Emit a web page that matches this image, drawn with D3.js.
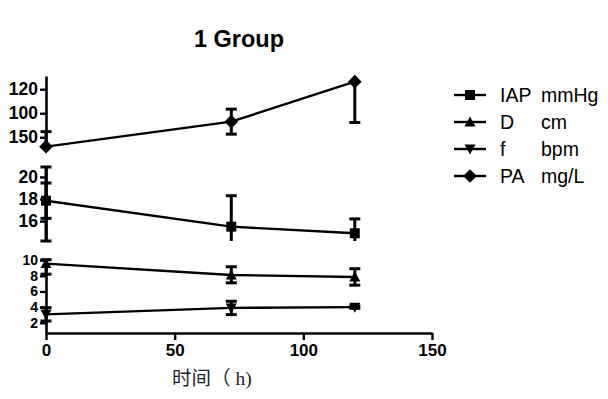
<!DOCTYPE html>
<html>
<head>
<meta charset="utf-8">
<script src="https://cdn.jsdelivr.net/npm/d3@7"></script>
<style>
  html, body { margin: 0; padding: 0; background: #fff; }
  svg { display: block; }
</style>
</head>
<body>
<svg id="chart" width="608" height="399"></svg>
<script>
// ---------- data ----------
const hours = [0, 72, 120];

const paMean = [72.2, 93, 126.3];
const paErrUp = [12.5, 10.4, 34];
const paErrDown = [12.5, 10.4, 34];

const iapMean = [17.85, 15.5, 14.9];
const iapErrUp = [1.6, 2.8, 1.3];
const iapErrDown = [1.6, 2.8, 1.3];
const iapOuterLow = [14.2, null, null];
const iapOuterHigh = [20.9, null, null];

const dMean = [9.55, 8.1, 7.85];
const dErrUp = [0.5, 1.05, 1.05];
const dErrDown = [1.35, 1.0, 1.05];

const fMean = [3.08, 3.9, 4.0];
const fErrUp = [0.85, 0.85, 0.15];
const fErrDown = [0.85, 0.85, 0.15];

const xTicks = [0, 50, 100, 150];
const topTicks = [80, 100, 120];
const topTickLabels = ["150", "100", "120"];
const midTicks = [16, 18, 20];
const botTicks = [2, 4, 6, 8, 10];

const legendNames = ["IAP", "D", "f", "PA"];
const legendUnits = ["mmHg", "cm", "bpm", "mg/L"];
const legendShapes = ["square", "triangleUp", "triangleDown", "diamond"];

const titleText = "1 Group";
const xLabelText = "时间（ h)";

// ---------- layout ----------
const svg = d3.select("#chart");
const FONT = "Arial, 'Liberation Sans', Helvetica, sans-serif";
const x = d3.scaleLinear().domain([0, 150]).range([46, 432]);

const yTop = d3.scaleLinear().domain([69.4, 131]).range([150, 76]);
const yMid = d3.scaleLinear().domain([14.2, 20.9]).range([241, 167]);
const yBot = d3.scaleLinear().domain([0.7, 10.1]).range([333, 259.3]);

const segments = [
  { scale: yTop, ticks: topTicks, labels: topTickLabels, fs: 17.5 },
  { scale: yMid, ticks: midTicks, labels: midTicks.map(String), fs: 17.5 },
  { scale: yBot, ticks: botTicks, labels: botTicks.map(String), fs: 14 }
];

// title
svg.append("text")
  .attr("x", 239).attr("y", 47)
  .attr("text-anchor", "middle")
  .attr("font-family", FONT).attr("font-weight", "bold").attr("font-size", 23.5)
  .text(titleText);

// y axis segments
segments.forEach(seg => {
  const ax = d3.axisLeft(seg.scale)
    .tickValues(seg.ticks)
    .tickFormat((d, i) => seg.labels[i])
    .tickSize(6).tickSizeOuter(0).tickPadding(2);
  const g = svg.append("g").attr("transform", `translate(${x(0)},0)`).call(ax);
  g.select(".domain").attr("stroke", "#000").attr("stroke-width", 2.6);
  g.selectAll(".tick line").attr("stroke", "#000").attr("stroke-width", 2.4);
  g.selectAll(".tick text")
    .attr("font-family", FONT).attr("font-weight", "bold").attr("font-size", seg.fs)
    .attr("fill", "#000");
});

// x axis
const xAx = d3.axisBottom(x).tickValues(xTicks).tickSize(7).tickSizeOuter(0).tickPadding(4);
const gx = svg.append("g").attr("transform", `translate(0,${yBot.range()[0]})`).call(xAx);
gx.select(".domain").attr("stroke", "#000").attr("stroke-width", 2.6);
gx.selectAll(".tick line").attr("stroke", "#000").attr("stroke-width", 2.4);
gx.selectAll(".tick text")
  .attr("font-family", FONT).attr("font-weight", "bold").attr("font-size", 17)
  .attr("fill", "#000");

// x label
svg.append("text")
  .attr("x", 172).attr("y", 385)
  .attr("text-anchor", "start")
  .attr("font-family", "'Liberation Serif', 'Noto Sans CJK SC', serif")
  .attr("font-size", 19.5)
  .attr("fill", "#1c1c30")
  .text(xLabelText);

// ---------- marker shapes ----------
function shapePath(type, s) {
  switch (type) {
    case "square": return `M${-s/2},${-s/2}h${s}v${s}h${-s}Z`;
    case "triangleUp": return `M0,${-s*0.55}L${s*0.55},${s*0.45}L${-s*0.55},${s*0.45}Z`;
    case "triangleDown": return `M0,${s*0.55}L${s*0.55},${-s*0.45}L${-s*0.55},${-s*0.45}Z`;
    case "diamond": return `M0,${-s*0.62}L${s*0.62},0L0,${s*0.62}L${-s*0.62},0Z`;
  }
}

// ---------- series ----------
const series = [
  { mean: paMean, up: paErrUp, down: paErrDown, scale: yTop, shape: "diamond", size: 11 },
  { mean: iapMean, up: iapErrUp, down: iapErrDown, scale: yMid, shape: "square", size: 10 },
  { mean: dMean, up: dErrUp, down: dErrDown, scale: yBot, shape: "triangleUp", size: 10 },
  { mean: fMean, up: fErrUp, down: fErrDown, scale: yBot, shape: "triangleDown", size: 10 }
];

const capW = 5.5;
function drawErr(g, xp, scale, lo, hi) {
  const [d0, d1] = scale.domain();
  const loC = Math.max(lo, d0), hiC = Math.min(hi, d1);
  g.append("line")
    .attr("x1", xp).attr("x2", xp)
    .attr("y1", scale(loC)).attr("y2", scale(hiC))
    .attr("stroke", "#000").attr("stroke-width", 3);
  if (lo >= d0 - 1e-9) {
    g.append("line").attr("x1", xp - capW).attr("x2", xp + capW)
      .attr("y1", scale(lo)).attr("y2", scale(lo))
      .attr("stroke", "#000").attr("stroke-width", 3);
  }
  if (hi <= d1 + 1e-9) {
    g.append("line").attr("x1", xp - capW).attr("x2", xp + capW)
      .attr("y1", scale(hi)).attr("y2", scale(hi))
      .attr("stroke", "#000").attr("stroke-width", 3);
  }
}

series.forEach(s => {
  const g = svg.append("g");
  const pts = hours.map((h, i) => [x(h), s.scale(s.mean[i])]);
  g.append("path")
    .attr("d", d3.line()(pts))
    .attr("fill", "none").attr("stroke", "#000").attr("stroke-width", 2.4);
  hours.forEach((h, i) => {
    drawErr(g, x(h), s.scale, s.mean[i] - s.down[i], s.mean[i] + s.up[i]);
  });
  hours.forEach((h, i) => {
    g.append("path")
      .attr("d", shapePath(s.shape, s.size))
      .attr("transform", `translate(${pts[i][0]},${pts[i][1]})`)
      .attr("fill", "#000");
  });
});

// outer range bars of IAP
hours.forEach((h, i) => {
  if (iapOuterLow[i] != null) drawErr(svg.append("g"), x(h), yMid, iapOuterLow[i], iapOuterHigh[i]);
});

// ---------- legend ----------
const legY = [95, 122, 149, 176];
legendNames.forEach((name, i) => {
  const g = svg.append("g").attr("transform", `translate(0,${legY[i]})`);
  g.append("line").attr("x1", 454).attr("x2", 486).attr("y1", 0).attr("y2", 0)
    .attr("stroke", "#000").attr("stroke-width", 2.4);
  g.append("path").attr("d", shapePath(legendShapes[i], legendShapes[i] === "diamond" ? 11 : 10))
    .attr("transform", "translate(470,0)").attr("fill", "#000");
  g.append("text").attr("x", 500).attr("y", 7)
    .attr("font-family", FONT).attr("font-size", 19.5).text(name);
  g.append("text").attr("x", 541).attr("y", 7)
    .attr("font-family", FONT).attr("font-size", 19.5).text(legendUnits[i]);
});
</script>
</body>
</html>
